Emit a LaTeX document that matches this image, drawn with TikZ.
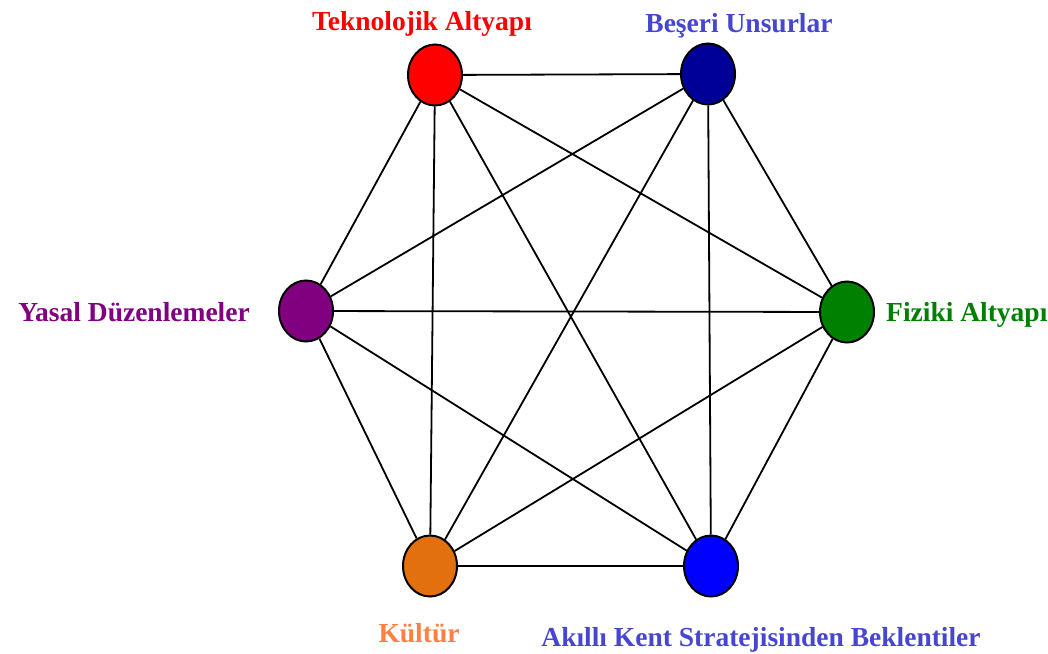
\documentclass[tikz,border=0pt]{standalone}
\usepackage{fontspec}
\setmainfont{Liberation Serif}
\usepackage{tikz}
\usetikzlibrary{shapes.geometric}

\definecolor{tekred}{HTML}{FF0000}
\definecolor{besernavy}{HTML}{000099}
\definecolor{beserblue}{HTML}{4646D2}
\definecolor{fizgreen}{HTML}{008000}
\definecolor{akilblue}{HTML}{0000FF}
\definecolor{kulorange}{HTML}{E2700F}
\definecolor{kullabel}{HTML}{FF8040}
\definecolor{yaspurple}{HTML}{800080}

\tikzset{
  vertex/.style={ellipse, draw=black, line width=2pt, minimum width=54pt, minimum height=61pt, inner sep=0pt},
  edge/.style={black, line width=1.8pt},
  lbl/.style={anchor=base, inner sep=0pt, font=\fontsize{27.5}{30}\selectfont\bfseries}
}

\begin{document}
\begin{tikzpicture}[x=1pt,y=-1pt]
        \useasboundingbox (0,0) rectangle (1048,653);

        \node[vertex, fill=tekred] (tek) at (435,75) {};
        \node[vertex, fill=besernavy] (bes) at (708,74) {};
        \node[vertex, fill=fizgreen] (fiz) at (847,312) {};
        \node[vertex, fill=akilblue] (akil) at (711,566) {};
        \node[vertex, fill=kulorange] (kul) at (430,566) {};
        \node[vertex, fill=yaspurple] (yas) at (306,311) {};

        \foreach \a/\b in {tek/bes, tek/fiz, tek/akil, tek/kul, tek/yas,
                           bes/fiz, bes/akil, bes/kul, bes/yas,
                           fiz/akil, fiz/kul, fiz/yas,
                           akil/kul, akil/yas, kul/yas}
            \draw[edge] (\a) -- (\b);

        \node[lbl, text=tekred] (teklbl) at (422,30) {Teknolojik Altyapı};
        \node[lbl, text=beserblue] (beslbl) at (739,32) {Beşeri Unsurlar};
        \node[lbl, text=fizgreen, anchor=base west] (fizlbl) at (886,321) {Fiziki Altyapı};
        \node[lbl, text=beserblue] (akillbl) at (761,646) {Akıllı Kent Stratejisinden Beklentiler};
        \node[lbl, text=kullabel] (kullbl) at (419,642) {Kültür};
        \node[lbl, text=yaspurple, anchor=base east] (yaslbl) at (250,321) {Yasal Düzenlemeler};

    \end{tikzpicture}
\end{document}
